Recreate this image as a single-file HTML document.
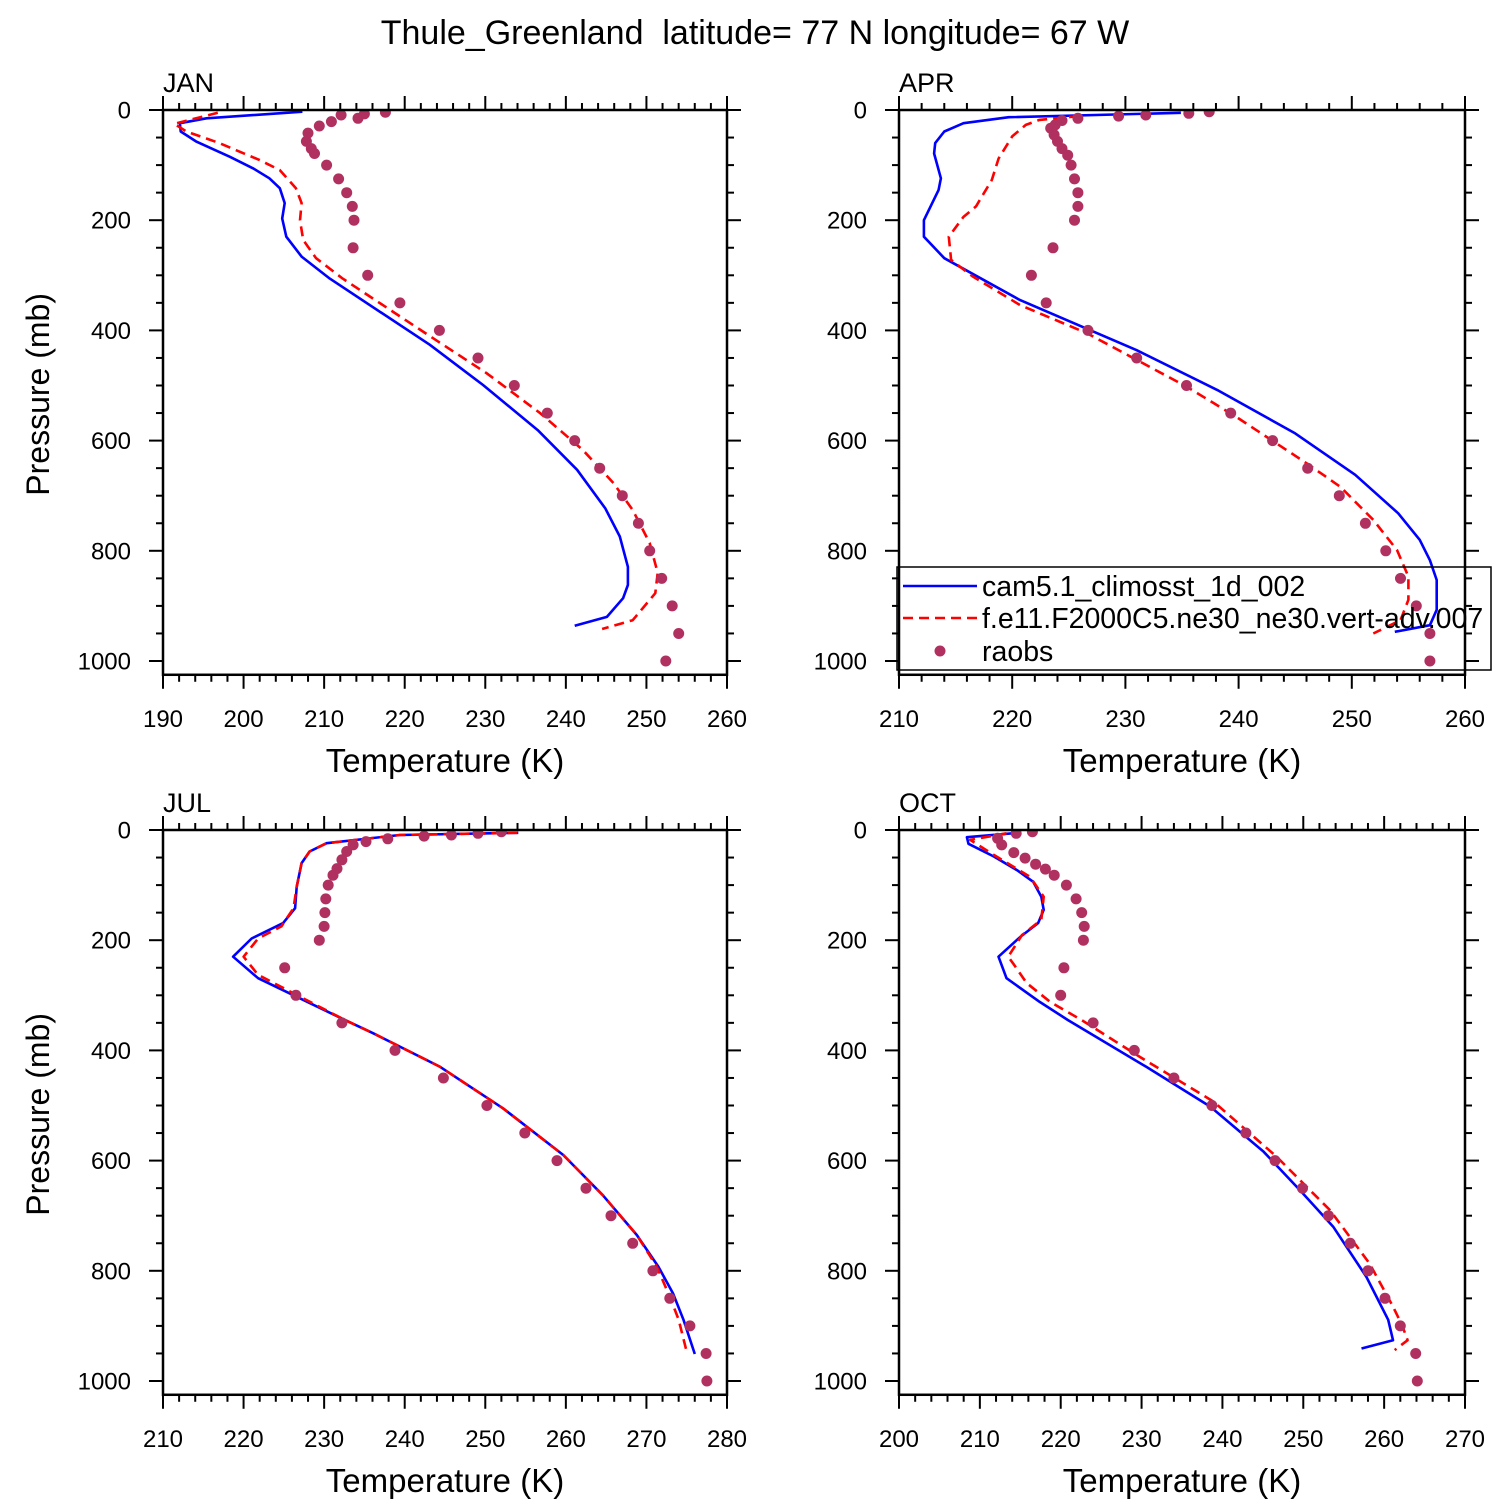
<!DOCTYPE html>
<html><head><meta charset="utf-8"><style>
html,body{margin:0;padding:0;background:#fff;}
svg{display:block;font-family:"Liberation Sans",Arial,sans-serif;}
</style></head><body>
<svg id="chart" width="1510" height="1510" viewBox="0 0 1510 1510" xmlns="http://www.w3.org/2000/svg">
<text x="755" y="44" font-size="34" text-anchor="middle" xml:space="preserve">Thule_Greenland  latitude= 77 N longitude= 67 W</text>
</svg>
<script>
// ---- JAN ----
const janCamP=[3,15,24,39,57,85,106,124,142,169,197,230,266,306,426,499,581,653,723,774,829,862,886,920,936];
const janCamT=[207.3,195.4,192.1,192.2,194.1,198.3,201.2,203.2,204.5,205.1,204.8,205.3,207.2,210.7,223.1,229.7,236.5,241.4,244.9,246.7,247.7,247.7,247.1,245.1,241.1];
const janFP=[5,25,39,60,91,109,142,169,200,236,269,306,414,478,550,617,677,726,786,840,877,926,942];
const janFT=[196.8,191.4,192.9,197.0,202.0,204.5,206.5,207.2,207.0,207.4,209.0,212.3,223.5,230.2,236.8,242.1,245.9,248.3,250.4,251.4,251.1,248.3,244.5];
const janObsP=[4,7,9,15,21,29,42,57,70,79,100,125,150,175,200,250,300,350,400,450,500,550,600,650,700,750,800,850,900,950,1000];
const janObsT=[217.6,215.0,212.1,214.2,210.9,209.4,208.0,207.8,208.4,208.8,210.3,211.8,212.8,213.5,213.7,213.6,215.4,219.4,224.3,229.1,233.6,237.7,241.1,244.2,247.0,249.0,250.4,251.9,253.2,254.0,252.4];
// ---- APR ----
const aprCamP=[5,13,24,39,60,79,124,145,200,230,269,345,436,508,587,662,732,780,817,853,907,935,947];
const aprCamT=[234.9,219.7,215.7,214.0,213.2,213.1,213.7,213.5,212.2,212.2,214.0,220.7,231.0,238.1,245.0,250.3,254.1,256.0,256.9,257.5,257.5,256.9,253.8];
const aprFP=[11,18,27,48,88,127,175,194,230,272,302,354,405,502,557,641,684,744,799,847,889,926,950];
const aprFT=[225.9,222.4,221.2,220.0,218.8,218.2,216.8,215.7,214.4,214.6,216.5,220.7,226.6,235.4,239.8,246.0,249.0,251.9,254.0,255.0,255.0,254.3,251.9];
const aprObsP=[3,6,9,11,15,19,27,33,45,57,70,82,100,125,150,175,200,250,300,350,400,450,500,550,600,650,700,750,800,850,900,950,1000];
const aprObsT=[237.4,235.6,231.8,229.4,225.8,224.4,223.8,223.4,223.7,224.0,224.4,224.9,225.2,225.5,225.8,225.8,225.5,223.6,221.7,223.0,226.7,231.0,235.4,239.3,243.0,246.1,248.9,251.2,253.0,254.3,255.7,256.9,256.9];
// ---- JUL ----
const julCamP=[5,9,24,39,60,103,142,169,197,230,269,345,369,430,505,590,663,735,793,841,889,951];
const julCamT=[254.1,239.4,230.3,228.2,227.2,226.6,226.4,224.9,221.0,218.7,221.8,232.6,236.1,244.4,252.2,259.7,264.6,268.8,271.5,273.3,274.6,276.0];
const julFP=[5,9,24,39,60,103,142,175,197,230,263,345,369,430,505,590,663,735,793,847,889,947];
const julFT=[254.0,239.4,230.3,228.2,227.2,226.6,226.2,224.7,221.8,220.0,221.8,232.6,236.1,244.4,252.2,259.7,264.6,268.8,271.3,272.9,274.0,275.0];
const julObsP=[3,6,9,11,16,21,27,39,54,70,82,100,125,150,175,200,250,300,350,400,450,500,550,600,650,700,750,800,850,900,950,1000];
const julObsT=[252.0,249.1,245.8,242.4,237.9,235.2,233.6,232.8,232.2,231.6,231.1,230.5,230.2,230.1,230.0,229.4,225.1,226.5,232.2,238.8,244.8,250.2,254.9,258.9,262.5,265.6,268.3,270.8,272.9,275.4,277.4,277.5];
// ---- OCT ----
const octCamP=[5,13,25,48,73,94,121,145,169,194,230,269,312,345,430,502,584,654,720,811,889,926,941];
const octCamT=[214.8,208.4,208.6,211.7,214.6,216.6,217.6,217.9,217.2,215.0,212.3,213.3,217.4,220.9,230.6,238.5,245.1,249.6,253.7,257.8,260.5,261.1,257.2];
const octFP=[6,18,45,85,121,163,191,230,242,278,312,345,412,493,593,690,787,865,898,926,944];
const octFT=[213.3,208.8,211.7,216.2,217.9,217.6,215.2,213.5,214.1,215.8,218.7,222.6,229.8,238.9,246.7,253.3,258.2,261.1,262.2,262.9,261.3];
const octObsP=[3,6,15,27,41,51,62,71,82,100,125,150,175,200,250,300,350,400,450,500,550,600,650,700,750,800,850,900,950,1000];
const octObsT=[216.5,214.5,212.2,212.7,214.2,215.6,216.9,218.1,219.2,220.7,221.9,222.6,222.9,222.8,220.4,220.0,224.0,229.1,234.0,238.7,242.9,246.5,249.9,253.1,255.8,258.0,260.1,262.0,263.9,264.1];

const NS="http://www.w3.org/2000/svg";
const svg=document.getElementById('chart');
function mk(tag,attrs,parent){const e=document.createElementNS(NS,tag);for(const k in attrs)e.setAttribute(k,attrs[k]);(parent||svg).appendChild(e);return e;}

const panels=[
 {key:'jan',label:'JAN',x0:163,x1:727,y0:110,xmin:190,xmax:260,leftTitle:true,cam:[janCamT,janCamP],f:[janFT,janFP],obs:[janObsT,janObsP]},
 {key:'apr',label:'APR',x0:899,x1:1465,y0:110,xmin:210,xmax:260,leftTitle:false,cam:[aprCamT,aprCamP],f:[aprFT,aprFP],obs:[aprObsT,aprObsP]},
 {key:'jul',label:'JUL',x0:163,x1:727,y0:830,xmin:210,xmax:280,leftTitle:true,cam:[julCamT,julCamP],f:[julFT,julFP],obs:[julObsT,julObsP]},
 {key:'oct',label:'OCT',x0:899,x1:1465,y0:830,xmin:200,xmax:270,leftTitle:false,cam:[octCamT,octCamP],f:[octFT,octFP],obs:[octObsT,octObsP]}
];
const PPM=0.551; // px per mb
const PMAX=1025;

panels.forEach(pn=>{
  const g=mk('g',{});
  
  
  const xs=t=>pn.x0+(t-pn.xmin)/(pn.xmax-pn.xmin)*(pn.x1-pn.x0);
  const ys=p=>pn.y0+p*PPM;
  const yb=ys(PMAX);
  const clipId='clip-'+pn.key;
  const cp=mk('clipPath',{id:clipId},g);
  mk('rect',{x:pn.x0,y:pn.y0,width:pn.x1-pn.x0,height:yb-pn.y0},cp);
  const sg=mk('g',{'clip-path':'url(#'+clipId+')'},g);
  const line=(arr,attrs,name)=>{
    const pts=arr[1].map((p,i)=>xs(arr[0][i]).toFixed(1)+','+ys(p).toFixed(1)).join(' ');
    const pl=mk('polyline',Object.assign({points:pts,fill:'none','stroke-linejoin':'round'},attrs),sg);
    
    
  };
  line(pn.cam,{stroke:'#0000ff','stroke-width':2.6},pn.key+'-cam5-line');
  line(pn.f,{stroke:'#ff0000','stroke-width':2.6,'stroke-dasharray':'10,6'},pn.key+'-f2000-line');
  pn.obs[1].forEach((p,i)=>{
    const c=mk('circle',{cx:xs(pn.obs[0][i]).toFixed(1),cy:ys(p).toFixed(1),r:5.5,fill:'#b03060'},sg);
    
    
  });
  const fr=mk('rect',{x:pn.x0,y:pn.y0,width:pn.x1-pn.x0,height:yb-pn.y0,fill:'none',stroke:'#000','stroke-width':2.5},g);
  
  
  for(let t=pn.xmin;t<=pn.xmax+1e-6;t+=2){
    const major=Math.abs(t%10)<1e-6;
    const L=major?14:7;const x=xs(t);
    mk('line',{x1:x,x2:x,y1:pn.y0,y2:pn.y0-L,stroke:'#000','stroke-width':2},g);
    mk('line',{x1:x,x2:x,y1:yb,y2:yb+L,stroke:'#000','stroke-width':2},g);
    if(major){
      const tl=mk('text',{x:x,y:yb+52,'font-size':24,'text-anchor':'middle'},g);
      tl.textContent=t;
      
      
    }
  }
  for(let p=0;p<=1000;p+=50){
    const major=p%200===0;const L=major?14:7;const y=ys(p);
    mk('line',{x1:pn.x0,x2:pn.x0-L,y1:y,y2:y,stroke:'#000','stroke-width':2},g);
    mk('line',{x1:pn.x1,x2:pn.x1+L,y1:y,y2:y,stroke:'#000','stroke-width':2},g);
    if(major){
      const tl=mk('text',{x:pn.x0-32,y:y+8.5,'font-size':24,'text-anchor':'end'},g);
      tl.textContent=p;
      
      
    }
  }
  const lab=mk('text',{x:pn.x0,y:pn.y0-18,'font-size':27},g);
  lab.textContent=pn.label;
  
  
  const xt=mk('text',{x:(pn.x0+pn.x1)/2,y:yb+97,'font-size':33,'text-anchor':'middle'},g);
  xt.textContent='Temperature (K)';
  
  
  if(pn.leftTitle){
    const cy=(pn.y0+yb)/2+2;
    const yt=mk('text',{x:49,y:cy,'font-size':32,'text-anchor':'middle',transform:'rotate(-90 49 '+cy+')'},g);
    yt.textContent='Pressure (mb)';
    
    
  }
});

const lg=mk('g',{});


mk('rect',{x:897,y:567,width:594,height:103,fill:'none',stroke:'#000','stroke-width':1.5},lg);
const legendNames=['cam5.1_climosst_1d_002','f.e11.F2000C5.ne30_ne30.vert-adv.007','raobs'];
const rowsY=[586,618,651];
legendNames.forEach((nm,i)=>{
  const y=rowsY[i];
  if(i===0){const l=mk('line',{x1:903,x2:977,y1:y,y2:y,stroke:'#0000ff','stroke-width':2.6},lg);}
  if(i===1){const l=mk('line',{x1:903,x2:977,y1:y,y2:y,stroke:'#ff0000','stroke-width':2.6,'stroke-dasharray':'10,6'},lg);}
  if(i===2){const c=mk('circle',{cx:940,cy:y,r:5.5,fill:'#b03060'},lg);}
  const t=mk('text',{x:982,y:y+10,'font-size':28.5},lg);
  t.textContent=nm;
  
  
});
</script>
</body></html>
